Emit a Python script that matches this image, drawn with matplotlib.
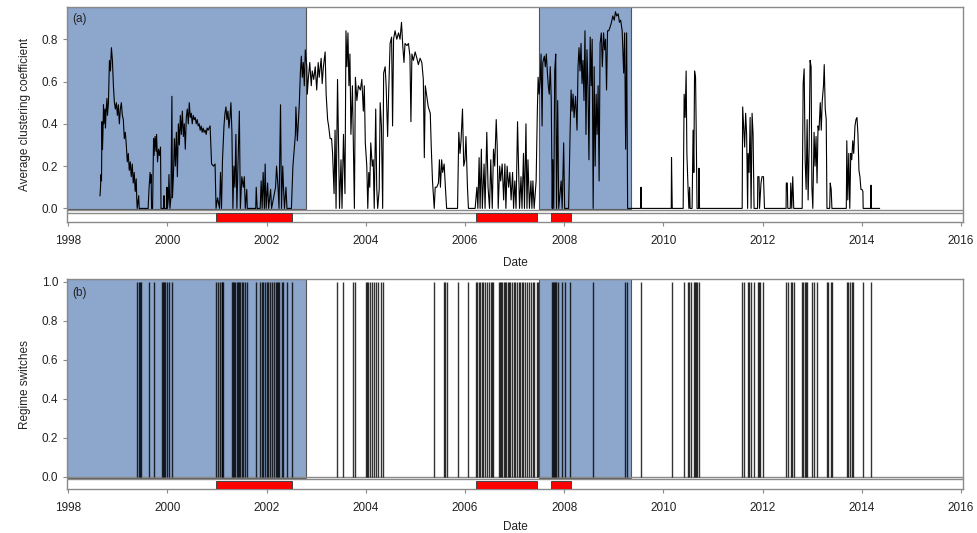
import matplotlib
matplotlib.use("Agg")
import matplotlib.pyplot as plt
from matplotlib.patches import Rectangle

plt.rcParams['font.family'] = ['Liberation Sans', 'DejaVu Sans']
plt.rcParams['font.size'] = 8.5

# ------------------------------
# Data
# ------------------------------
# Average clustering coefficient (decimal year, value)
acc_years = [
    1998.64, 1998.65, 1998.66, 1998.67, 1998.68, 1998.69, 1998.70, 1998.71, 1998.72, 1998.74,
    1998.75, 1998.76, 1998.78, 1998.79, 1998.81, 1998.83, 1998.85, 1998.87, 1998.89, 1998.91,
    1998.93, 1998.95, 1998.97, 1998.99, 1999.01, 1999.03, 1999.05, 1999.07, 1999.09, 1999.11,
    1999.13, 1999.15, 1999.17, 1999.19, 1999.21, 1999.23, 1999.25, 1999.27, 1999.29, 1999.31,
    1999.33, 1999.35, 1999.37, 1999.38, 1999.39, 1999.42, 1999.43, 1999.61, 1999.63, 1999.65,
    1999.66, 1999.67, 1999.68, 1999.70, 1999.72, 1999.73, 1999.75, 1999.77, 1999.78, 1999.80,
    1999.82, 1999.84, 1999.86, 1999.87, 1999.92, 1999.93, 1999.94, 1999.98, 1999.99, 2000.00,
    2000.02, 2000.03, 2000.05, 2000.07, 2000.09, 2000.10, 2000.12, 2000.14, 2000.16, 2000.18,
    2000.20, 2000.22, 2000.24, 2000.26, 2000.28, 2000.30, 2000.32, 2000.34, 2000.36, 2000.38,
    2000.40, 2000.42, 2000.44, 2000.46, 2000.48, 2000.50, 2000.52, 2000.54, 2000.56, 2000.58,
    2000.60, 2000.62, 2000.64, 2000.66, 2000.68, 2000.70, 2000.72, 2000.74, 2000.76, 2000.78,
    2000.80, 2000.82, 2000.84,
    2000.86, 2000.89, 2000.93, 2000.96, 2000.98, 2001.01, 2001.05, 2001.07, 2001.09, 2001.11,
    2001.14, 2001.16, 2001.18, 2001.20, 2001.22, 2001.24, 2001.26, 2001.28, 2001.30, 2001.32,
    2001.34, 2001.36, 2001.38, 2001.40, 2001.42, 2001.45, 2001.47, 2001.50, 2001.53, 2001.55,
    2001.57, 2001.60, 2001.61, 2001.78, 2001.79, 2001.81, 2001.87, 2001.89, 2001.91, 2001.93,
    2001.955, 2001.97, 2001.99, 2002.02, 2002.04, 2002.08, 2002.10, 2002.18, 2002.20, 2002.23,
    2002.25, 2002.28, 2002.30, 2002.325, 2002.34, 2002.36, 2002.39, 2002.41, 2002.50, 2002.53,
    2002.55, 2002.58, 2002.59, 2002.62, 2002.65, 2002.66, 2002.68, 2002.70, 2002.72, 2002.74,
    2002.76, 2002.78, 2002.81, 2002.82, 2002.84, 2002.87, 2002.90, 2002.92, 2002.95, 2002.98,
    2003.01, 2003.04, 2003.06, 2003.10, 2003.12, 2003.145, 2003.18, 2003.20, 2003.23, 2003.25,
    2003.28, 2003.31, 2003.33, 2003.36, 2003.38, 2003.40, 2003.43, 2003.45, 2003.47, 2003.50,
    2003.52, 2003.55, 2003.58, 2003.60, 2003.62, 2003.64, 2003.66, 2003.68, 2003.70, 2003.73,
    2003.75, 2003.77, 2003.79, 2003.82, 2003.85, 2003.89, 2003.92, 2003.95, 2003.97, 2003.99,
    2004.02, 2004.04, 2004.06, 2004.08, 2004.10, 2004.13, 2004.15, 2004.17, 2004.20, 2004.22,
    2004.24, 2004.27, 2004.29, 2004.315, 2004.34, 2004.36, 2004.39, 2004.41, 2004.44, 2004.46,
    2004.49, 2004.52, 2004.54, 2004.56, 2004.59, 2004.625, 2004.66, 2004.69, 2004.72, 2004.745,
    2004.77, 2004.79, 2004.83, 2004.86, 2004.89, 2004.91, 2004.93, 2004.96, 2004.995, 2005.03,
    2005.06, 2005.095, 2005.13, 2005.16, 2005.18, 2005.20, 2005.23, 2005.26, 2005.30, 2005.32,
    2005.345, 2005.38, 2005.40, 2005.43, 2005.465, 2005.485, 2005.505, 2005.53, 2005.55, 2005.58,
    2005.605, 2005.63, 2005.85, 2005.875, 2005.90, 2005.92, 2005.95, 2005.975, 2006.00, 2006.02,
    2006.05, 2006.07, 2006.205, 2006.24, 2006.26, 2006.285, 2006.305, 2006.33, 2006.35, 2006.385,
    2006.405, 2006.44, 2006.465, 2006.495, 2006.52, 2006.55, 2006.575, 2006.60, 2006.63, 2006.65,
    2006.67, 2006.70, 2006.72, 2006.75, 2006.78, 2006.805, 2006.825, 2006.85, 2006.88, 2006.905,
    2006.93, 2006.96, 2006.98, 2007.005, 2007.03, 2007.06, 2007.10, 2007.13, 2007.15, 2007.18,
    2007.20, 2007.23, 2007.25, 2007.27, 2007.30, 2007.33, 2007.35, 2007.37, 2007.395, 2007.435,
    2007.46, 2007.475, 2007.495, 2007.515, 2007.535, 2007.555, 2007.57, 2007.60, 2007.62, 2007.64,
    2007.66, 2007.68, 2007.70, 2007.72, 2007.74, 2007.76, 2007.77, 2007.79, 2007.81, 2007.83,
    2007.846, 2007.87, 2007.89, 2007.94, 2007.96, 2007.99, 2008.01, 2008.09, 2008.12, 2008.14,
    2008.16, 2008.18, 2008.20, 2008.23, 2008.26, 2008.28, 2008.30, 2008.32, 2008.34, 2008.36,
    2008.38, 2008.40, 2008.42, 2008.44, 2008.46, 2008.48, 2008.50, 2008.525, 2008.545, 2008.565,
    2008.585, 2008.605, 2008.625, 2008.645, 2008.665, 2008.685, 2008.705, 2008.725, 2008.75, 2008.77,
    2008.795, 2008.815, 2008.835, 2008.855, 2008.875, 2008.90, 2008.93, 2008.955, 2008.98, 2009.01,
    2009.035, 2009.06, 2009.09, 2009.115, 2009.14, 2009.17, 2009.20, 2009.22, 2009.24, 2009.26,
    2009.28, 2009.54, 2009.55, 2009.56, 2010.16, 2010.165, 2010.175, 2010.18,
    2010.40, 2010.42, 2010.44, 2010.46, 2010.475, 2010.495, 2010.515, 2010.53, 2010.54, 2010.58,
    2010.60, 2010.615, 2010.63, 2010.65, 2010.66, 2010.68, 2010.71, 2010.72, 2010.73, 2011.59,
    2011.60, 2011.62, 2011.64, 2011.66, 2011.68, 2011.70, 2011.71, 2011.73, 2011.75, 2011.77,
    2011.79, 2011.81, 2011.83, 2011.90, 2011.905, 2011.93, 2011.94, 2011.97, 2011.99, 2012.02,
    2012.04, 2012.475, 2012.48, 2012.50, 2012.51, 2012.56, 2012.57, 2012.59, 2012.61, 2012.63,
    2012.80, 2012.82, 2012.84, 2012.86, 2012.88, 2012.90, 2012.92, 2012.94, 2012.96, 2012.98,
    2012.996, 2013.015, 2013.04, 2013.06, 2013.08, 2013.10, 2013.12, 2013.14, 2013.165, 2013.185,
    2013.205, 2013.23, 2013.245, 2013.265, 2013.285, 2013.30, 2013.355, 2013.366, 2013.385, 2013.40,
    2013.69, 2013.70, 2013.72, 2013.74, 2013.76, 2013.78, 2013.80, 2013.82, 2013.84, 2013.865,
    2013.885, 2013.905, 2013.925, 2013.945, 2013.965, 2013.985, 2014.005, 2014.025, 2014.03, 2014.18,
    2014.187, 2014.195, 2014.36,
]
acc_values = [
    0.06, 0.10, 0.16, 0.13, 0.41, 0.28, 0.36, 0.49, 0.40, 0.47,
    0.38, 0.45, 0.52, 0.44, 0.50, 0.70, 0.65, 0.76, 0.70, 0.58,
    0.50, 0.47, 0.50, 0.44, 0.49, 0.40, 0.47, 0.50, 0.44, 0.42,
    0.33, 0.36, 0.30, 0.22, 0.26, 0.18, 0.22, 0.15, 0.21, 0.12,
    0.17, 0.08, 0.14, 0.05, 0.00, 0.06, 0.00, 0.00, 0.10, 0.17,
    0.12, 0.16, 0.00, 0.00, 0.33, 0.25, 0.34, 0.27, 0.35, 0.22,
    0.28, 0.25, 0.29, 0.00, 0.00, 0.06, 0.00, 0.00, 0.10, 0.00,
    0.05, 0.16, 0.00, 0.05, 0.53, 0.05, 0.15, 0.33, 0.20, 0.36,
    0.15, 0.40, 0.30, 0.44, 0.35, 0.46, 0.34, 0.40, 0.28, 0.43,
    0.47, 0.40, 0.50, 0.43, 0.45, 0.40, 0.44, 0.42, 0.43, 0.40,
    0.42, 0.39, 0.40, 0.37, 0.39, 0.36, 0.38, 0.36, 0.37, 0.35,
    0.38, 0.37, 0.38,
    0.39, 0.21, 0.20, 0.21, 0.00, 0.05, 0.00, 0.17, 0.00, 0.23,
    0.39, 0.45, 0.48, 0.42, 0.46, 0.38, 0.43, 0.50, 0.36, 0.00,
    0.20, 0.10, 0.35, 0.00, 0.18, 0.46, 0.00, 0.15, 0.10, 0.15,
    0.00, 0.09, 0.00, 0.00, 0.10, 0.00, 0.00, 0.13, 0.00, 0.17,
    0.00, 0.21, 0.00, 0.12, 0.00, 0.09, 0.00, 0.10, 0.20, 0.10,
    0.00, 0.49, 0.00, 0.20, 0.10, 0.00, 0.10, 0.00, 0.00, 0.20,
    0.26, 0.35, 0.48, 0.32, 0.45, 0.50, 0.64, 0.72, 0.62, 0.69,
    0.58, 0.75, 0.67, 0.54, 0.61, 0.69, 0.58, 0.65, 0.61, 0.67,
    0.56, 0.69, 0.62, 0.71, 0.59, 0.67, 0.74, 0.54, 0.42, 0.39,
    0.33, 0.33, 0.26, 0.07, 0.37, 0.00, 0.61, 0.30, 0.00, 0.23,
    0.00, 0.35, 0.07, 0.84, 0.67, 0.83, 0.58, 0.73, 0.35, 0.58,
    0.28, 0.00, 0.62, 0.51, 0.58, 0.56, 0.61, 0.46, 0.58, 0.31,
    0.20, 0.00, 0.17, 0.10, 0.31, 0.20, 0.23, 0.00, 0.47, 0.10,
    0.00, 0.09, 0.50, 0.39, 0.00, 0.64, 0.67, 0.58, 0.34, 0.54,
    0.78, 0.81, 0.39, 0.80, 0.84, 0.80, 0.83, 0.80, 0.88, 0.77,
    0.69, 0.78, 0.77, 0.78, 0.72, 0.41, 0.73, 0.70, 0.74, 0.71,
    0.68, 0.71, 0.69, 0.61, 0.24, 0.58, 0.53, 0.48, 0.45, 0.29,
    0.13, 0.00, 0.10, 0.10, 0.12, 0.23, 0.10, 0.23, 0.17, 0.21,
    0.10, 0.00, 0.00, 0.36, 0.26, 0.32, 0.47, 0.20, 0.23, 0.34,
    0.10, 0.00, 0.00, 0.10, 0.00, 0.24, 0.00, 0.28, 0.00, 0.21,
    0.00, 0.36, 0.10, 0.00, 0.23, 0.00, 0.28, 0.20, 0.42, 0.29,
    0.00, 0.20, 0.13, 0.21, 0.04, 0.21, 0.00, 0.20, 0.10, 0.17,
    0.04, 0.17, 0.00, 0.13, 0.00, 0.41, 0.00, 0.15, 0.00, 0.26,
    0.00, 0.40, 0.00, 0.23, 0.00, 0.13, 0.00, 0.13, 0.00, 0.13,
    0.47, 0.62, 0.54, 0.60, 0.73, 0.39, 0.69, 0.72, 0.67, 0.73,
    0.65, 0.58, 0.54, 0.67, 0.51, 0.00, 0.23, 0.00, 0.65, 0.73,
    0.00, 0.51, 0.00, 0.13, 0.00, 0.31, 0.00, 0.00, 0.36, 0.56,
    0.46, 0.54, 0.43, 0.53, 0.37, 0.67, 0.76, 0.65, 0.78, 0.59,
    0.70, 0.51, 0.84, 0.35, 0.75, 0.58, 0.23, 0.81, 0.58, 0.80,
    0.00, 0.67, 0.20, 0.54, 0.35, 0.58, 0.13, 0.78, 0.83, 0.67,
    0.83, 0.75, 0.80, 0.56, 0.84, 0.84, 0.86, 0.88, 0.91, 0.89,
    0.93, 0.91, 0.92, 0.88, 0.89, 0.84, 0.64, 0.83, 0.28, 0.83,
    0.00, 0.00, 0.10, 0.00, 0.00, 0.24, 0.10, 0.00,
    0.00, 0.54, 0.43, 0.65, 0.26, 0.12, 0.00, 0.10, 0.00, 0.00,
    0.37, 0.17, 0.65, 0.62, 0.43, 0.00, 0.00, 0.19, 0.00, 0.00,
    0.48, 0.39, 0.29, 0.45, 0.35, 0.00, 0.26, 0.17, 0.43, 0.00,
    0.45, 0.35, 0.00, 0.00, 0.15, 0.15, 0.00, 0.12, 0.15, 0.15,
    0.00, 0.00, 0.12, 0.12, 0.00, 0.00, 0.12, 0.00, 0.15, 0.00,
    0.00, 0.59, 0.66, 0.23, 0.09, 0.42, 0.04, 0.28, 0.70, 0.67,
    0.10, 0.00, 0.36, 0.20, 0.34, 0.12, 0.39, 0.37, 0.50, 0.37,
    0.51, 0.58, 0.68, 0.47, 0.42, 0.00, 0.00, 0.12, 0.09, 0.00,
    0.00, 0.32, 0.04, 0.26, 0.00, 0.26, 0.23, 0.32, 0.26, 0.39,
    0.42, 0.43, 0.35, 0.18, 0.15, 0.09, 0.09, 0.08, 0.00, 0.00,
    0.11, 0.00, 0.00,
]

# Dates of regime switches (panel b)
switch_years = [
    1999.39, 1999.42, 1999.44, 1999.47, 1999.63, 1999.72, 1999.90, 1999.92, 1999.93, 1999.95,
    2000.00, 2000.03, 2000.09, 2000.97, 2001.01, 2001.05, 2001.09, 2001.11, 2001.13, 2001.30,
    2001.32, 2001.34, 2001.37, 2001.40, 2001.42, 2001.44, 2001.46, 2001.50, 2001.53, 2001.56,
    2001.61, 2001.79, 2001.87, 2001.91, 2001.93, 2001.97, 2002.00, 2002.03, 2002.06, 2002.10,
    2002.15, 2002.18, 2002.20, 2002.22, 2002.24, 2002.32, 2002.34, 2002.42, 2002.51,
    2003.415, 2003.55, 2003.74, 2003.785, 2004.00, 2004.03, 2004.05, 2004.09, 2004.12, 2004.17,
    2004.21, 2004.255, 2004.30, 2004.34, 2005.385, 2005.57, 2005.60, 2005.63, 2005.855, 2006.06,
    2006.22, 2006.245, 2006.28, 2006.31, 2006.34, 2006.37, 2006.41, 2006.44, 2006.48, 2006.52,
    2006.555, 2006.575, 2006.69, 2006.71, 2006.73, 2006.75, 2006.78, 2006.80, 2006.83, 2006.86,
    2006.885, 2006.91, 2006.945, 2006.98, 2007.01, 2007.05, 2007.08, 2007.11, 2007.15, 2007.18,
    2007.215, 2007.25, 2007.29, 2007.335, 2007.37, 2007.40, 2007.45, 2007.48, 2007.76, 2007.78,
    2007.80, 2007.82, 2007.84, 2007.87, 2007.95, 2008.02, 2008.12, 2008.59, 2009.23, 2009.265,
    2009.55, 2010.17, 2010.42, 2010.495, 2010.52, 2010.555, 2010.61, 2010.63, 2010.65, 2010.68,
    2010.72, 2011.59, 2011.62, 2011.70, 2011.73, 2011.77, 2011.83, 2011.91, 2011.93, 2011.95,
    2012.02, 2012.48, 2012.51, 2012.57, 2012.60, 2012.63, 2012.80, 2012.82, 2012.85, 2012.875,
    2012.90, 2013.00, 2013.03, 2013.09, 2013.31, 2013.33, 2013.39, 2013.41, 2013.70, 2013.72,
    2013.77, 2013.80, 2013.82, 2014.02, 2014.19,
]

# Shaded (blue) periods and red bars in the bottom strip
shade_start = [1997.98, 2007.50]
shade_end = [2002.79, 2009.34]
red_start = [2000.98, 2006.22, 2007.74]
red_end = [2002.51, 2007.45, 2008.13]

year_ticks = [1998, 2000, 2002, 2004, 2006, 2008, 2010, 2012, 2014, 2016]

# ------------------------------
# Styling
# ------------------------------
BLUE = "#8DA6CC"
GREY = "#8a8a8a"
XLIM = (1997.98, 2016.05)


def style_axes(ax, ylim, yticks, ylabel, xlabelpad):
    ax.set_xlim(*XLIM)
    ax.set_ylim(*ylim)
    ax.set_xticks(year_ticks)
    ax.set_yticks(yticks)
    ax.set_yticklabels([f"{t:.1f}" for t in yticks])
    for s in ax.spines.values():
        s.set_color(GREY)
        s.set_linewidth(1.0)
    ax.tick_params(axis="both", direction="out", length=3, width=0.8, color=GREY,
                   labelsize=8.5, labelcolor="#222222")
    ax.tick_params(axis="x", pad=6.5)
    ax.tick_params(axis="y", pad=3.5)
    ax.set_xlabel("Date", fontsize=8.5, color="#222222", labelpad=xlabelpad)
    ax.set_ylabel(ylabel, fontsize=8.5, color="#222222", labelpad=8)


def add_background(ax, ytop, line_levels, red_top):
    ybot = ax.get_ylim()[0]
    # blue regimes
    for x0, x1 in zip(shade_start, shade_end):
        ax.add_patch(Rectangle((x0, -0.005), x1 - x0, ytop + 0.005,
                               facecolor=BLUE, edgecolor="#555555", lw=0.8, zorder=1))
    # strip lines
    for lv in line_levels:
        ax.axhline(lv, color=GREY, lw=1.0, zorder=2)
    # red bars
    for x0, x1 in zip(red_start, red_end):
        ax.add_patch(Rectangle((x0, ybot), x1 - x0, red_top - ybot,
                               facecolor="#FF0000", edgecolor="#444444", lw=0.7, zorder=3))


fig = plt.figure(figsize=(9.78, 5.33), dpi=100)
ax1 = fig.add_axes([0.0688, 0.584, 0.9162, 0.4023])
ax2 = fig.add_axes([0.0688, 0.082, 0.9162, 0.3946])

# Panel (a): average clustering coefficient
style_axes(ax1, (-0.063, 0.951), [0.0, 0.2, 0.4, 0.6, 0.8], "Average clustering coefficient", 7)
add_background(ax1, 0.951, [-0.008, -0.021], -0.024)
ax1.plot(acc_years, acc_values, color="black", lw=0.8, zorder=4)
ax1.text(0.005, 0.972, "(a)", transform=ax1.transAxes, ha="left", va="top",
         fontsize=8.5, color="#222222", zorder=5)

# Panel (b): regime switches
style_axes(ax2, (-0.065, 1.014), [0.0, 0.2, 0.4, 0.6, 0.8, 1.0], "Regime switches", 5)
add_background(ax2, 1.014, [0.0, -0.012], -0.02)
ax2.vlines(switch_years, 0, 1, colors="black", lw=1.0, alpha=0.8, zorder=4)
ax2.text(0.005, 0.963, "(b)", transform=ax2.transAxes, ha="left", va="top",
         fontsize=8.5, color="#222222", zorder=5)

plt.savefig("out.png", dpi=100)
